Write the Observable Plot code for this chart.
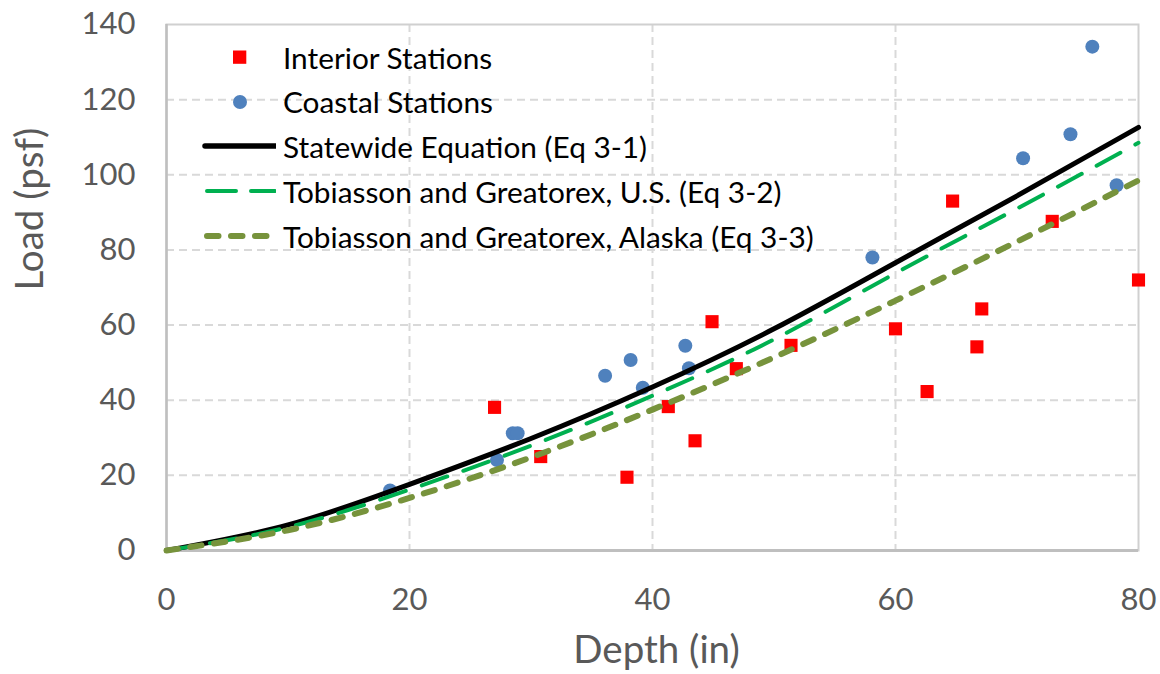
<!DOCTYPE html>
<html>
<head>
<meta charset="utf-8">
<script src="https://cdn.jsdelivr.net/npm/d3@7"></script>
<script src="https://cdn.jsdelivr.net/npm/@observablehq/plot@0.6"></script>
<style>
  html, body { margin: 0; padding: 0; background: #fff; }
  #wrap { position: relative; width: 1160px; height: 674px; font-family: Lato, "Open Sans", sans-serif; }
  #legend { position: absolute; left: 0; top: 0; }
  .li { position: absolute; display: flex; align-items: center; height: 30px; }
  .li span { font-size: 29.8px; color: #000; white-space: nowrap; margin-left: 7px; }
</style>
</head>
<body>
<div id="wrap"><div id="chart"></div><div id="legend"></div></div>
<script>
// ---- Data ----
const xTicks = [0, 20, 40, 60, 80];
const yTicks = [0, 20, 40, 60, 80, 100, 120, 140];
const xGrid = [20, 40, 60];
const yGrid = [20, 40, 60, 80, 100, 120];

const interiorDepth = [27.0, 30.8, 37.9, 41.3, 43.5, 44.9, 46.9, 51.4, 60.0, 62.6, 64.7, 66.7, 67.1, 72.9, 80.0];
const interiorLoad  = [38.1, 25.0, 19.5, 38.3, 29.2, 60.9, 48.4, 54.6, 59.0, 42.3, 93.0, 54.2, 64.3, 87.6, 72.0];

const coastalDepth = [18.4, 27.2, 28.5, 28.9, 36.1, 38.2, 39.2, 42.7, 43.0, 58.1, 70.5, 74.4, 76.2, 78.2];
const coastalLoad  = [16.0, 24.1, 31.2, 31.2, 46.5, 50.7, 43.3, 54.5, 48.5, 78.0, 104.4, 110.8, 134.1, 97.2];

const curveDepth  = [0, 10, 20, 30, 40, 50, 60, 70, 80];
const statewide   = [0, 6.8, 17.6, 29.8, 43.5, 59.0, 76.6, 94.4, 112.6];
const tobiassonUS = [0, 6.2, 16.2, 27.9, 41.2, 56.2, 73.8, 91.0, 108.5];
const tobiassonAK = [0, 5.4, 14.0, 24.8, 37.5, 51.4, 66.5, 82.2, 98.5];

const legendLabels = [
  "Interior Stations",
  "Coastal Stations",
  "Statewide Equation (Eq 3-1)",
  "Tobiasson and Greatorex, U.S. (Eq 3-2)",
  "Tobiasson and Greatorex, Alaska (Eq 3-3)"
];

// ---- Styles ----
const C = {red: "#ff0000", blue: "#4f81bd", black: "#000000", green: "#00b050", olive: "#77933c"};

const interior = interiorDepth.map((d, i) => ({depth: d, load: interiorLoad[i]}));
const coastal = coastalDepth.map((d, i) => ({depth: d, load: coastalLoad[i]}));
const mk = arr => curveDepth.map((d, i) => ({depth: d, load: arr[i]}));

const chart = Plot.plot({
  width: 1160,
  height: 674,
  marginLeft: 166,
  marginRight: 22,
  marginTop: 24,
  marginBottom: 124,
  style: {fontFamily: "Lato, 'Open Sans', sans-serif", background: "#fff", overflow: "visible"},
  x: {domain: [0, 80], axis: null, label: null},
  y: {domain: [0, 140], axis: null, label: null},
  marks: [
    Plot.gridX(xGrid, {stroke: "#d9d9d9", strokeOpacity: 1, strokeWidth: 2, strokeDasharray: "8,5"}),
    Plot.gridY(yGrid, {stroke: "#d9d9d9", strokeOpacity: 1, strokeWidth: 2, strokeDasharray: "8,5"}),
    Plot.frame({stroke: "#d0d0d0", strokeWidth: 2}),
    Plot.ruleX([0], {stroke: "#bfbfbf", strokeWidth: 2.5}),
    Plot.ruleY([0], {stroke: "#bfbfbf", strokeWidth: 3}),
    Plot.axisX(xTicks, {tickSize: 0, tickPadding: 37, fontSize: 31, fill: "#595959", label: null}),
    Plot.axisY(yTicks, {tickSize: 0, tickPadding: 31, fontSize: 31, fill: "#595959", label: null}),
    Plot.text(["Depth (in)"], {text: d => d, frameAnchor: "bottom", dy: 112, dx: 4, fontSize: 38.5, fill: "#595959"}),
    Plot.text(["Load (psf)"], {text: d => d, frameAnchor: "left", dx: -136, dy: 3, rotate: -90, fontSize: 38.5, fill: "#595959"}),
    Plot.dot(interior, {x: "depth", y: "load", symbol: "square", r: 7.4, fill: C.red, stroke: "none"}),
    Plot.dot(coastal, {x: "depth", y: "load", symbol: "circle", r: 7, fill: C.blue, stroke: "none"}),
    Plot.line(mk(statewide), {x: "depth", y: "load", curve: "natural", stroke: C.black, strokeWidth: 5}),
    Plot.line(mk(tobiassonUS), {x: "depth", y: "load", curve: "natural", stroke: C.green, strokeWidth: 4, strokeDasharray: "27,17", strokeLinecap: "round"}),
    Plot.line(mk(tobiassonAK), {x: "depth", y: "load", curve: "natural", stroke: C.olive, strokeWidth: 6, strokeDasharray: "11.5,12.5", strokeLinecap: "round"})
  ]
});
document.getElementById("chart").appendChild(chart);

// ---- Legend (HTML overlay inside the plot area) ----
const rowsY = [57, 101.5, 146, 191, 236];
const symbols = [
  `<rect x="33" y="8.5" width="13.3" height="13.3" fill="${C.red}"/>`,
  `<circle cx="40" cy="15" r="7" fill="${C.blue}"/>`,
  `<line x1="5" y1="15" x2="75" y2="15" stroke="${C.black}" stroke-width="5.5" stroke-linecap="round"/>`,
  `<line x1="7" y1="15" x2="75" y2="15" stroke="${C.green}" stroke-width="4" stroke-dasharray="29,15" stroke-linecap="round"/>`,
  `<line x1="7" y1="15" x2="73" y2="15" stroke="${C.olive}" stroke-width="6" stroke-dasharray="11.5,12.5" stroke-linecap="round"/>`
];
const legend = document.getElementById("legend");
legendLabels.forEach((lab, i) => {
  const div = document.createElement("div");
  div.className = "li";
  div.style.left = "200px";
  div.style.top = (rowsY[i] - 15) + "px";
  div.innerHTML = `<svg width="76" height="30">${symbols[i]}</svg><span>${lab}</span>`;
  legend.appendChild(div);
});
</script>
</body>
</html>
